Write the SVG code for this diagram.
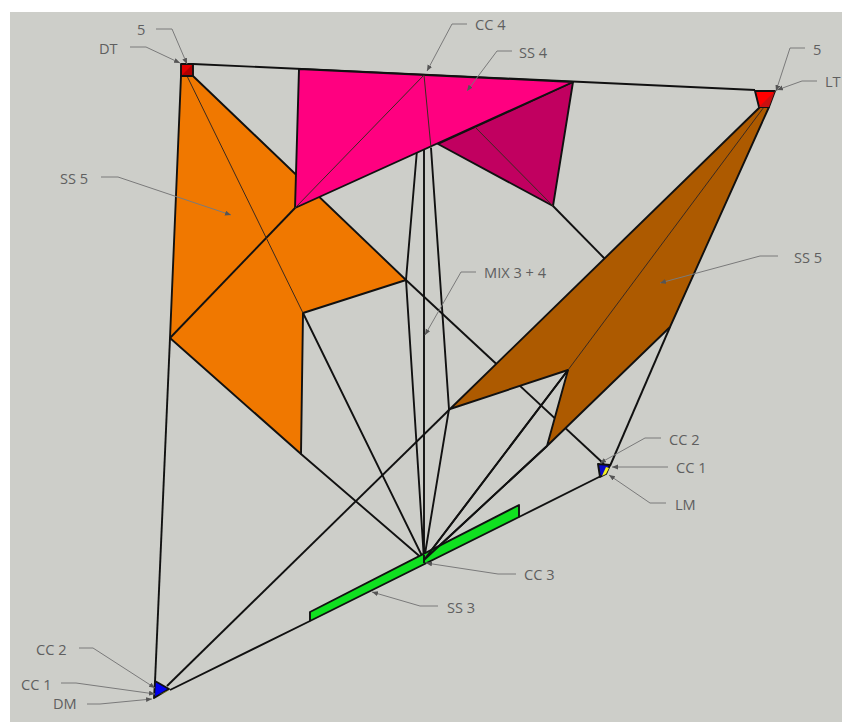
<svg xmlns="http://www.w3.org/2000/svg" width="842" height="722" viewBox="0 0 842 722">
<style>
.l{fill:none;stroke:#111;stroke-width:1.9;stroke-linejoin:round}
.t{fill:none;stroke:#3a2a20;stroke-width:1}
.s{stroke:#111;stroke-width:1.9;stroke-linejoin:round}
.ld{fill:none;stroke:#7a7a7a;stroke-width:1;marker-end:url(#a)}
text{font-family:"Open Sans","Liberation Sans",sans-serif;font-size:14.6px;fill:#5f5f5f}
</style>
<defs><marker id="a" markerUnits="userSpaceOnUse" markerWidth="8" markerHeight="6" refX="6" refY="2.5" orient="auto"><path d="M0 0L6 2.5L0 5Z" fill="#555"/></marker></defs>
<rect x="0" y="0" width="842" height="722" fill="#fff"/>
<rect x="10" y="12" width="832" height="710" fill="#cdcec9"/>
<g id="connectors">
<path class="l" d="M193 64L755 90"/>
<path class="l" d="M170 338L155 682"/>
<path class="l" d="M303 313L424 560M301 454L424 560"/>
<path class="l" d="M417 150L406 280L424 560M424 148V560M431 148L449 409L424 560"/>
<path class="l" d="M406 280L604 464"/>
<path class="l" d="M553 206L606 260"/>
<path class="l" d="M450 409L167 686"/>
<path class="l" d="M568 370L424 560M547 446L424 560"/>
<path class="l" d="M670 327L610 466"/>
<path class="l" d="M170 690L310 621M519 517L601 476"/>
</g>
<g id="ss5-left"><path class="s" fill="#f07800" d="M181 76H193L406 280L303 313L301 454L170 338Z"/><path class="l" d="M170 338L295 208"/><path class="t" d="M187 76L303 313"/></g>
<g id="ss4-dark"><path class="s" fill="#c10060" d="M438 144L573 82L553 206Z"/><path class="t" d="M474 126L553 206"/></g>
<g id="ss4"><path class="s" fill="#ff0080" d="M299 69L573 82L295 208Z"/><path class="t" d="M424 75L295 208M424 75L431 148"/></g>
<g id="ss5-right"><path class="s" fill="#ad5a00" d="M760 107H769L670 327L547 446L568 370L450 409Z"/><path class="t" d="M568 370L764 107"/></g>
<g id="ss3"><path class="s" fill="#10e020" d="M310 612L519 505V517L310 621Z"/><path class="l" d="M424 555V563"/><path class="l" d="M424 560L568 370M424 560L547 446"/></g>
<g id="dt"><rect class="s" x="181" y="64" width="12" height="12" fill="#e00000"/><path d="M182 75L192 65V75Z" fill="#b00000"/></g>
<g id="lt"><path class="s" fill="#ff0000" d="M755 91L775 91L769 107H759Z"/><path d="M759 107L775 91L769 107Z" fill="#c81010"/></g>
<g id="lm"><path class="s" fill="#0a0ac8" d="M598 464L610 465L606 474L600 477Z"/><path d="M602 476L606 467L609 468L606 474Z" fill="#f2f020"/></g>
<g id="dm"><path class="s" fill="#0000f0" d="M155 681L169 689L154 698Z"/><path d="M158 695L169 690L166 692Z" fill="#a0a020"/></g>
<g id="labels">
<path class="ld" d="M156 29H172L187 64"/>
<path class="ld" d="M130 47H146L180 63"/>
<path class="ld" d="M101 177H118L231 215"/>
<path class="ld" d="M467 24H452L427 71"/>
<path class="ld" d="M512 51H497L467 91"/>
<path class="ld" d="M805 48H790L776 91"/>
<path class="ld" d="M817 81H802L777 90"/>
<path class="ld" d="M778 256H760L660 283"/>
<path class="ld" d="M476 272H461L425 335"/>
<path class="ld" d="M661 438H645L600 463"/>
<path class="ld" d="M668 467H612"/>
<path class="ld" d="M666 503H650L609 475"/>
<path class="ld" d="M516 574H498L426 563"/>
<path class="ld" d="M438 606H420L372 592"/>
<path class="ld" d="M79 648H93L155 688"/>
<path class="ld" d="M61 683H76L155 694"/>
<path class="ld" d="M87 704H100L152 699"/>
<text x="137" y="35">5</text>
<text x="99" y="54">DT</text>
<text x="60" y="184">SS 5</text>
<text x="475" y="30">CC 4</text>
<text x="519" y="58">SS 4</text>
<text x="813" y="55">5</text>
<text x="825" y="87">LT</text>
<text x="794" y="263">SS 5</text>
<text x="484" y="278">MIX 3 + 4</text>
<text x="669" y="445">CC 2</text>
<text x="676" y="473">CC 1</text>
<text x="675" y="510">LM</text>
<text x="524" y="580">CC 3</text>
<text x="447" y="613">SS 3</text>
<text x="36" y="655">CC 2</text>
<text x="21" y="690">CC 1</text>
<text x="53" y="709">DM</text>
</g>
</svg>
